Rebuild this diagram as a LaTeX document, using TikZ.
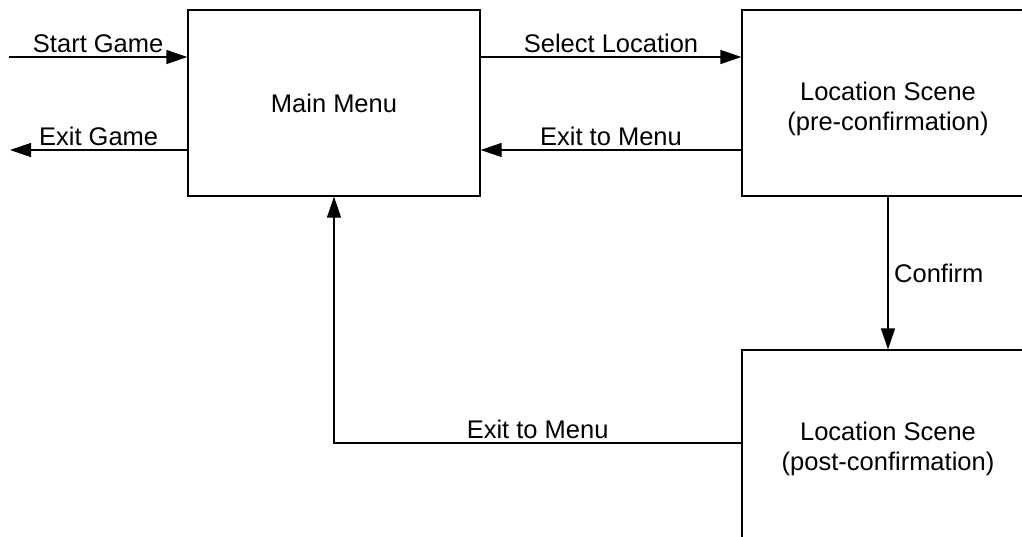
\documentclass[tikz,border=0pt]{standalone}
\usepackage{fontspec}
\setmainfont{Liberation Sans}
\usetikzlibrary{arrows.meta}
\begin{document}
\begin{tikzpicture}[x=1pt,y=-1pt,
  box/.style={draw, line width=1.3pt, minimum width=292pt, minimum height=186pt, inner sep=0pt},
  boxtext/.style={align=center, inner sep=0pt, font=\fontsize{25.5}{30}\selectfont},
  conn/.style={line width=1.3pt, -{Triangle[length=21pt,width=14pt]}},
  lbl/.style={font=\fontsize{25.5}{30}\selectfont, inner sep=3.5pt}]
\clip (0,0) rectangle (1022,536);
\node[box] (main) at (334,103) {};
\node[boxtext] (maintext) at (main.center) {Main Menu};
\node[box] (pre) at (888,103) {};
\node[boxtext] (pretext) at ([yshift=-6pt]pre.center) {Location Scene\\(pre-confirmation)};
\node[box, minimum height=192pt] (post) at (888,446) {};
\node[boxtext] (posttext) at ([yshift=-3pt]post.center) {Location Scene\\(post-confirmation)};
\coordinate (sgs) at (9,57);
\coordinate (egs) at (10,150);
\draw[conn] (sgs) -- (sgs -| main.west) node[lbl, midway, above] {Start Game};
\draw[conn] (egs -| main.west) -- (egs) node[lbl, midway, above] {Exit Game};
\draw[conn] (main.east |- sgs) -- (pre.west |- sgs) node[lbl, midway, above] {Select Location};
\draw[conn] (pre.west |- egs) -- (main.east |- egs) node[lbl, midway, above] {Exit to Menu};
\draw[conn] (pre.south) -- (post.north) node[lbl, midway, right, xshift=2pt] {Confirm};
\coordinate (postin) at (post.west |- 0,443);
\draw[conn] (postin) -| (main.south) node[lbl, pos=0.25, above] {Exit to Menu};
\end{tikzpicture}
\end{document}
